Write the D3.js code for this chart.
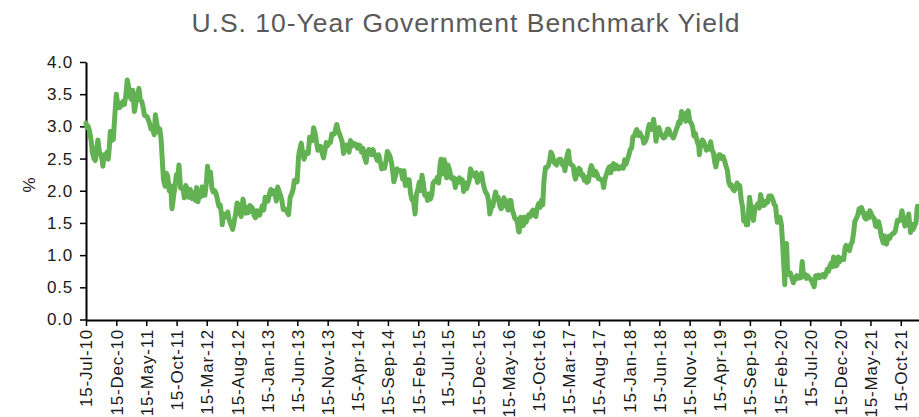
<!DOCTYPE html>
<html>
<head>
<meta charset="utf-8">
<script src="https://cdn.jsdelivr.net/npm/d3@7/dist/d3.min.js"></script>
<style>
  html, body { margin: 0; padding: 0; background: #fff; }
  svg { display: block; font-family: "Liberation Sans", Arial, sans-serif; }
</style>
</head>
<body>
<svg id="chart" width="919" height="417"></svg>
<script>
const title = "U.S. 10-Year Government Benchmark Yield";
const yLabel = "%";
const yTicks = [0, 0.5, 1, 1.5, 2, 2.5, 3, 3.5, 4];
const xTickLabels = ["15-Jul-10","15-Dec-10","15-May-11","15-Oct-11","15-Mar-12","15-Aug-12","15-Jan-13","15-Jun-13","15-Nov-13","15-Apr-14","15-Sep-14","15-Feb-15","15-Jul-15","15-Dec-15","15-May-16","15-Oct-16","15-Mar-17","15-Aug-17","15-Jan-18","15-Jun-18","15-Nov-18","15-Apr-19","15-Sep-19","15-Feb-20","15-Jul-20","15-Dec-20","15-May-21","15-Oct-21"];
const xDomain = ["2010-07-15", "2022-01-15"];

const y2010 = [["07-15",3.05],["07-20",2.98],["07-26",3.00],["08-02",2.93],["08-10",2.78],["08-16",2.60],["08-24",2.50],["08-31",2.47],["09-07",2.65],["09-13",2.79],["09-21",2.60],["09-28",2.55],["10-04",2.49],["10-08",2.38],["10-15",2.56],["10-22",2.55],["10-29",2.60],["11-04",2.49],["11-09",2.65],["11-15",2.92],["11-22",2.78],["11-30",2.80],["12-07",3.15],["12-15",3.50],["12-22",3.33],["12-31",3.29]];
const y2011 = [["01-03",3.36],["01-10",3.32],["01-18",3.39],["01-25",3.34],["02-01",3.48],["02-08",3.72],["02-15",3.62],["02-22",3.46],["03-01",3.42],["03-08",3.56],["03-16",3.23],["03-23",3.35],["03-31",3.47],["04-08",3.59],["04-15",3.41],["04-22",3.39],["04-29",3.30],["05-06",3.17],["05-13",3.16],["05-20",3.15],["05-31",3.05],["06-08",2.96],["06-15",2.98],["06-24",2.87],["06-30",3.18],["07-08",3.03],["07-15",2.91],["07-22",2.96],["07-29",2.80],["08-04",2.47],["08-10",2.17],["08-18",2.07],["08-25",2.27],["08-31",2.22],["09-08",2.00],["09-15",2.08],["09-22",1.72],["09-30",1.92],["10-07",2.07],["10-14",2.25],["10-21",2.23],["10-27",2.40],["11-04",2.04],["11-10",2.04],["11-18",2.01],["11-23",1.89],["11-30",2.08],["12-07",2.03],["12-15",1.90],["12-23",2.02],["12-30",1.88]];
const y2012 = [["01-03",1.97],["01-10",1.97],["01-17",1.85],["01-24",2.05],["01-31",1.83],["02-07",1.97],["02-14",1.91],["02-21",2.06],["02-28",1.93],["03-06",1.93],["03-13",2.12],["03-19",2.38],["03-27",2.21],["04-03",2.29],["04-10",2.04],["04-17",1.98],["04-24",2.00],["05-01",1.96],["05-08",1.86],["05-15",1.76],["05-22",1.78],["05-31",1.57],["06-01",1.47],["06-08",1.64],["06-15",1.59],["06-21",1.62],["06-29",1.67],["07-06",1.55],["07-13",1.49],["07-24",1.40],["07-31",1.51],["08-07",1.63],["08-15",1.81],["08-21",1.79],["08-28",1.66],["09-05",1.60],["09-14",1.87],["09-21",1.75],["09-28",1.65],["10-05",1.74],["10-12",1.66],["10-19",1.77],["10-26",1.75],["11-02",1.72],["11-09",1.61],["11-16",1.58],["11-23",1.69],["11-30",1.62],["12-07",1.62],["12-14",1.70],["12-21",1.77],["12-28",1.70]];
const y2013 = [["01-04",1.90],["01-11",1.87],["01-18",1.84],["01-25",1.95],["02-01",2.02],["02-08",1.95],["02-15",2.00],["02-22",1.96],["03-01",1.84],["03-08",2.06],["03-15",1.99],["03-22",1.93],["03-29",1.85],["04-05",1.71],["04-12",1.72],["04-19",1.70],["04-26",1.66],["05-02",1.63],["05-10",1.90],["05-17",1.95],["05-24",2.01],["05-31",2.16],["06-07",2.17],["06-14",2.14],["06-21",2.52],["06-25",2.61],["07-05",2.74],["07-12",2.59],["07-19",2.49],["07-26",2.57],["08-02",2.60],["08-09",2.58],["08-16",2.83],["08-23",2.82],["08-30",2.78],["09-05",2.98],["09-13",2.89],["09-20",2.75],["09-27",2.63],["10-04",2.65],["10-11",2.69],["10-18",2.59],["10-25",2.51],["11-01",2.62],["11-08",2.75],["11-15",2.70],["11-22",2.75],["11-29",2.75],["12-06",2.88],["12-13",2.87],["12-20",2.89],["12-31",3.03]];
const y2014 = [["01-07",2.94],["01-14",2.88],["01-21",2.82],["01-28",2.75],["02-03",2.58],["02-10",2.67],["02-18",2.71],["02-25",2.70],["03-03",2.60],["03-10",2.78],["03-17",2.69],["03-24",2.74],["03-31",2.73],["04-07",2.72],["04-14",2.66],["04-21",2.71],["04-28",2.70],["05-05",2.60],["05-12",2.66],["05-19",2.53],["05-28",2.44],["06-04",2.60],["06-11",2.64],["06-18",2.61],["06-25",2.56],["07-02",2.64],["07-09",2.56],["07-16",2.53],["07-23",2.47],["07-30",2.56],["08-06",2.47],["08-15",2.34],["08-22",2.40],["08-29",2.35],["09-05",2.46],["09-12",2.61],["09-19",2.58],["09-26",2.53],["10-03",2.44],["10-10",2.28],["10-15",2.14],["10-22",2.22],["10-31",2.34],["11-07",2.31],["11-14",2.32],["11-21",2.31],["11-28",2.18],["12-05",2.31],["12-12",2.08],["12-19",2.17],["12-31",2.17]];
const y2015 = [["01-07",1.96],["01-14",1.86],["01-21",1.87],["01-30",1.64],["02-06",1.95],["02-13",2.02],["02-20",2.13],["02-27",2.00],["03-06",2.24],["03-13",2.11],["03-20",1.93],["03-27",1.95],["04-03",1.85],["04-10",1.95],["04-17",1.87],["04-24",1.93],["05-01",2.12],["05-08",2.15],["05-15",2.14],["05-22",2.21],["05-29",2.12],["06-05",2.40],["06-10",2.49],["06-19",2.26],["06-26",2.48],["07-02",2.40],["07-08",2.20],["07-15",2.40],["07-22",2.33],["07-31",2.20],["08-07",2.18],["08-14",2.20],["08-21",2.05],["08-28",2.18],["09-04",2.13],["09-11",2.20],["09-18",2.13],["09-25",2.17],["10-02",1.99],["10-09",2.12],["10-16",2.03],["10-23",2.09],["10-30",2.16],["11-06",2.34],["11-13",2.28],["11-20",2.26],["11-27",2.22],["12-04",2.28],["12-11",2.13],["12-18",2.20],["12-31",2.27]];
const y2016 = [["01-08",2.12],["01-15",2.03],["01-20",1.98],["01-29",1.94],["02-05",1.84],["02-11",1.64],["02-19",1.74],["02-26",1.76],["03-04",1.88],["03-11",1.98],["03-18",1.87],["03-24",1.90],["04-01",1.77],["04-08",1.72],["04-15",1.75],["04-22",1.89],["04-29",1.83],["05-06",1.78],["05-13",1.70],["05-20",1.85],["05-27",1.85],["06-03",1.70],["06-10",1.64],["06-16",1.57],["06-24",1.56],["06-30",1.49],["07-05",1.37],["07-08",1.36],["07-15",1.59],["07-22",1.57],["07-29",1.46],["08-05",1.59],["08-12",1.51],["08-19",1.58],["08-26",1.63],["09-02",1.60],["09-09",1.67],["09-16",1.70],["09-23",1.62],["09-30",1.60],["10-07",1.73],["10-14",1.80],["10-21",1.74],["10-28",1.85],["11-04",1.78],["11-10",2.15],["11-18",2.36],["11-25",2.36],["12-02",2.39],["12-09",2.47],["12-15",2.60],["12-23",2.55],["12-30",2.45]];
const y2017 = [["01-06",2.42],["01-13",2.40],["01-20",2.47],["01-27",2.49],["02-03",2.49],["02-10",2.41],["02-17",2.42],["02-24",2.31],["03-03",2.49],["03-10",2.58],["03-14",2.62],["03-17",2.50],["03-24",2.41],["03-31",2.40],["04-07",2.38],["04-13",2.24],["04-18",2.18],["04-28",2.29],["05-05",2.35],["05-12",2.33],["05-19",2.24],["05-26",2.25],["06-02",2.16],["06-09",2.21],["06-14",2.13],["06-23",2.15],["06-30",2.31],["07-07",2.39],["07-14",2.33],["07-21",2.24],["07-28",2.30],["08-04",2.27],["08-11",2.19],["08-18",2.19],["08-25",2.17],["09-01",2.16],["09-07",2.05],["09-15",2.20],["09-22",2.26],["09-29",2.33],["10-06",2.37],["10-13",2.28],["10-20",2.39],["10-27",2.42],["11-03",2.34],["11-10",2.40],["11-17",2.35],["11-24",2.34],["12-01",2.37],["12-08",2.38],["12-15",2.35],["12-22",2.48],["12-29",2.41]];
const y2018 = [["01-05",2.48],["01-12",2.55],["01-19",2.64],["01-26",2.66],["02-02",2.84],["02-09",2.85],["02-15",2.91],["02-21",2.95],["03-02",2.86],["03-09",2.90],["03-16",2.85],["03-23",2.82],["03-29",2.74],["04-06",2.77],["04-13",2.83],["04-20",2.96],["04-25",3.03],["05-04",2.95],["05-11",2.97],["05-17",3.11],["05-25",2.93],["05-29",2.77],["06-08",2.94],["06-13",2.98],["06-22",2.89],["06-29",2.85],["07-06",2.82],["07-13",2.83],["07-20",2.89],["07-27",2.96],["08-03",2.95],["08-10",2.87],["08-17",2.87],["08-24",2.82],["08-31",2.86],["09-07",2.94],["09-14",2.99],["09-21",3.07],["09-28",3.05],["10-05",3.23],["10-09",3.21],["10-19",3.19],["10-26",3.08],["11-02",3.21],["11-08",3.24],["11-16",3.08],["11-23",3.05],["11-30",2.99],["12-07",2.85],["12-14",2.89],["12-21",2.79],["12-31",2.69]];
const y2019 = [["01-03",2.56],["01-10",2.74],["01-18",2.79],["01-25",2.76],["02-01",2.70],["02-08",2.63],["02-15",2.66],["02-22",2.65],["03-01",2.76],["03-08",2.63],["03-15",2.59],["03-22",2.44],["03-27",2.37],["04-05",2.50],["04-12",2.56],["04-18",2.56],["04-26",2.50],["05-03",2.53],["05-10",2.47],["05-17",2.39],["05-24",2.32],["05-31",2.14],["06-07",2.08],["06-14",2.09],["06-20",2.03],["06-28",2.00],["07-05",2.04],["07-12",2.12],["07-19",2.06],["07-26",2.08],["08-02",1.86],["08-09",1.75],["08-15",1.53],["08-23",1.54],["08-28",1.47],["09-04",1.47],["09-13",1.90],["09-20",1.75],["09-27",1.69],["10-03",1.54],["10-11",1.75],["10-18",1.75],["10-25",1.80],["11-01",1.73],["11-08",1.94],["11-15",1.84],["11-22",1.77],["11-29",1.78],["12-06",1.84],["12-13",1.82],["12-20",1.92],["12-31",1.92]];
const y2020 = [["01-08",1.87],["01-15",1.79],["01-22",1.77],["01-31",1.51],["02-07",1.59],["02-14",1.59],["02-21",1.47],["02-28",1.13],["03-06",0.74],["03-09",0.54],["03-12",0.88],["03-18",1.18],["03-23",0.76],["03-31",0.70],["04-07",0.72],["04-14",0.64],["04-21",0.57],["04-30",0.64],["05-08",0.68],["05-15",0.64],["05-22",0.66],["05-29",0.65],["06-05",0.90],["06-11",0.67],["06-19",0.70],["06-26",0.64],["07-02",0.68],["07-10",0.64],["07-17",0.63],["07-24",0.59],["08-04",0.51],["08-12",0.68],["08-20",0.65],["08-26",0.69],["09-02",0.65],["09-10",0.68],["09-18",0.70],["09-25",0.66],["10-02",0.70],["10-09",0.78],["10-16",0.75],["10-23",0.84],["10-30",0.88],["11-06",0.82],["11-10",0.97],["11-19",0.83],["11-27",0.84],["12-04",0.97],["12-11",0.90],["12-18",0.95],["12-31",0.93]];
const y2021 = [["01-08",1.13],["01-12",1.15],["01-20",1.10],["01-29",1.07],["02-05",1.17],["02-12",1.20],["02-19",1.34],["02-25",1.52],["03-05",1.57],["03-12",1.62],["03-19",1.72],["03-26",1.67],["03-31",1.74],["04-09",1.66],["04-16",1.58],["04-23",1.56],["04-30",1.65],["05-07",1.58],["05-12",1.69],["05-21",1.63],["05-28",1.59],["06-04",1.56],["06-10",1.45],["06-18",1.44],["06-25",1.52],["07-02",1.43],["07-08",1.30],["07-19",1.19],["07-23",1.30],["07-30",1.24],["08-04",1.17],["08-13",1.29],["08-20",1.26],["08-27",1.31],["09-03",1.33],["09-10",1.34],["09-17",1.37],["09-28",1.54],["10-05",1.53],["10-13",1.55],["10-21",1.69],["10-28",1.58],["11-05",1.45],["11-12",1.58],["11-19",1.54],["11-24",1.64],["12-03",1.35],["12-10",1.48],["12-17",1.40],["12-31",1.51]];
const y2022 = [["01-05",1.70],["01-07",1.76]];

const yearSeries = [[2010,y2010],[2011,y2011],[2012,y2012],[2013,y2013],[2014,y2014],[2015,y2015],[2016,y2016],[2017,y2017],[2018,y2018],[2019,y2019],[2020,y2020],[2021,y2021],[2022,y2022]];

const parseISO = d3.timeParse("%Y-%m-%d");
const parseTick = d3.timeParse("%d-%b-%y");
const data = [];
yearSeries.forEach(([yr, arr]) => arr.forEach(([md, v]) => data.push({date: parseISO(yr + "-" + md), value: v})));

const svg = d3.select("#chart");
const x = d3.scaleTime().domain(xDomain.map(parseISO)).range([86, 919]);
const y = d3.scaleLinear().domain([0, 4]).range([319.5, 62]);
const FONT = "'Liberation Sans', Arial, sans-serif";

// Title
svg.append("text")
  .attr("x", 466).attr("y", 31.5)
  .attr("text-anchor", "middle")
  .attr("fill", "#595959")
  .style("font-size", "26.5px")
  .style("letter-spacing", "1px")
  .text(title);

// Y axis
const yAxis = svg.append("g")
  .attr("transform", "translate(86,0)")
  .call(d3.axisLeft(y).tickValues(yTicks).tickFormat(d3.format(".1f")).tickSize(6).tickSizeOuter(0).tickPadding(7));
yAxis.select(".domain").attr("stroke", "#000").attr("stroke-width", 2);
yAxis.selectAll(".tick line").attr("stroke", "#000").attr("stroke-width", 1.5);
yAxis.selectAll(".tick text").attr("fill", "#1a1a1a")
  .style("font-size", "17px").style("letter-spacing", "0.8px").style("font-family", FONT);

// Y label
svg.append("text")
  .attr("transform", "translate(35,185) rotate(-90)")
  .attr("text-anchor", "middle")
  .attr("fill", "#1a1a1a")
  .style("font-size", "17px")
  .text(yLabel);

// X axis
const xTickDates = xTickLabels.map(parseTick);
const xAxis = svg.append("g")
  .attr("transform", "translate(0,320)")
  .call(d3.axisBottom(x).tickValues(xTickDates).tickFormat((d, i) => xTickLabels[i]).tickSize(6).tickSizeOuter(0));
xAxis.select(".domain").attr("stroke", "#000").attr("stroke-width", 2);
xAxis.selectAll(".tick line").attr("stroke", "#000").attr("stroke-width", 1.5);
xAxis.selectAll(".tick text")
  .attr("fill", "#1a1a1a")
  .style("font-size", "17px")
  .style("letter-spacing", "0.8px")
  .style("font-family", FONT)
  .attr("transform", "rotate(-90)")
  .attr("text-anchor", "end")
  .attr("x", -9)
  .attr("y", 0)
  .attr("dy", "0.35em");

// Line
const line = d3.line().x(d => x(d.date)).y(d => y(d.value));
svg.append("path")
  .datum(data)
  .attr("d", line)
  .attr("fill", "none")
  .attr("stroke", "#62B152")
  .attr("stroke-width", 5)
  .attr("stroke-linejoin", "round")
  .attr("stroke-linecap", "round");
</script>
</body>
</html>
